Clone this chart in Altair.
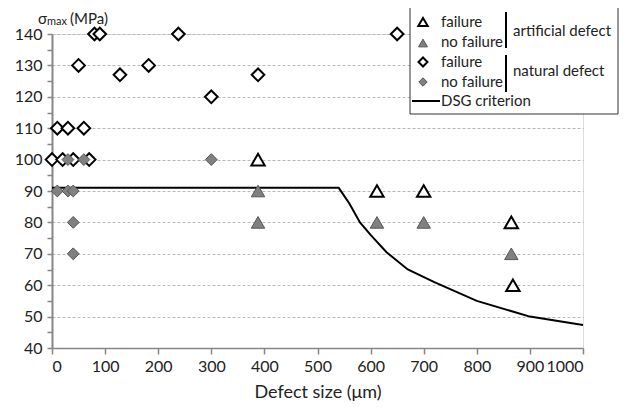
import altair as alt
import pandas as pd

FONT = "Lato"

# Natural defect, failure (open diamonds)
nat_fail_x = [0, 20, 40, 70, 10, 30, 60, 50, 80, 90, 128, 182, 238, 300, 388, 650]
nat_fail_y = [100, 100, 100, 100, 110, 110, 110, 130, 140, 140, 127, 130, 140, 120, 127, 140]
# Natural defect, no failure (grey diamonds)
nat_nof_x = [30, 60, 300, 10, 30, 40, 40, 40]
nat_nof_y = [100, 100, 100, 90, 90, 90, 80, 70]
# Artificial defect, failure (open triangles)
art_fail_x = [388, 612, 700, 865, 868]
art_fail_y = [100, 90, 90, 80, 60]
# Artificial defect, no failure (grey triangles)
art_nof_x = [388, 388, 612, 700, 865]
art_nof_y = [90, 80, 80, 80, 70]
# DSG criterion
dsg_x = [0, 540, 560, 580, 600, 630, 670, 720, 800, 900, 1000]
dsg_y = [91, 91, 86, 80, 76, 70.5, 65, 61, 55, 50, 47.3]

x_ticks = list(range(0, 1001, 100))
y_ticks = list(range(40, 141, 5))

W, H = 531, 314

df_nf = pd.DataFrame({"x": nat_fail_x, "y": nat_fail_y})
df_nn = pd.DataFrame({"x": nat_nof_x, "y": nat_nof_y})
df_af = pd.DataFrame({"x": art_fail_x, "y": art_fail_y})
df_an = pd.DataFrame({"x": art_nof_x, "y": art_nof_y})
df_dsg = pd.DataFrame({"x": dsg_x, "y": dsg_y})

xs = alt.Scale(domain=[0, 1000], nice=False, zero=False)
ys = alt.Scale(domain=[40, 140], nice=False, zero=False)

X = alt.X("x:Q", scale=xs, axis=alt.Axis(
    values=x_ticks, title="Defect size (μm)", grid=False, format="d",
    domainColor="#868686", domainWidth=1.5, tickColor="#868686", tickWidth=1.5, tickSize=6,
    labelFont=FONT, labelFontSize=16, labelColor="#222", labelPadding=4,
    titleFont=FONT, titleFontSize=18, titleFontWeight="normal", titleColor="#222", titlePadding=9))
Y = alt.Y("y:Q", scale=ys, axis=alt.Axis(
    values=y_ticks, title=None,
    labelExpr="datum.value % 10 == 0 ? datum.label : ''",
    grid=True,
    gridColor=alt.ConditionalAxisColor(condition={"test": "datum.value % 10 == 0 && datum.value > 40", "value": "#b8b8b8"}, value="transparent"),
    gridDash=[3, 2], gridWidth=1,
    domainColor="#868686", domainWidth=2, tickColor="#868686", tickWidth=1.5, tickSize=5,
    labelFont=FONT, labelFontSize=16, labelColor="#222", labelPadding=5))

base_enc = dict(x=X, y=Y)

dsg = alt.Chart(df_dsg).mark_line(color="black", strokeWidth=2).encode(**base_enc)
nf = alt.Chart(df_nf).mark_point(shape="diamond", size=160, filled=False, stroke="black",
                                  strokeWidth=2, fill="white", fillOpacity=1, opacity=1).encode(**base_enc)
nn = alt.Chart(df_nn).mark_point(shape="diamond", size=140, filled=True, fill="#808080",
                                  stroke="#555555", strokeWidth=1, opacity=1).encode(**base_enc)
af = alt.Chart(df_af).mark_point(shape="triangle-up", size=180, filled=False, stroke="black",
                                  strokeWidth=2, fill="white", fillOpacity=1, opacity=1).encode(**base_enc)
an = alt.Chart(df_an).mark_point(shape="triangle-up", size=180, filled=True, fill="#808080",
                                  stroke="#555555", strokeWidth=1, opacity=1).encode(**base_enc)

# ---- legend (plot-area pixel coordinates; origin at plot top-left) ----
OX, OY = 52, 34
def px(v): return v - OX
def py(v): return v - OY

leg_box = alt.Chart(pd.DataFrame({"a": [0]})).mark_rect(fill="white", stroke="#333", strokeWidth=1).encode(
    x=alt.value(px(410)), x2=alt.value(px(618)), y=alt.value(py(6)), y2=alt.value(py(114)))

def sym(shape, filled, yv, size):
    if filled:
        return alt.Chart(pd.DataFrame({"a": [0]})).mark_point(shape=shape, size=size, filled=True, fill="#808080",
                                                              stroke="#555555", strokeWidth=1, opacity=1).encode(
            x=alt.value(px(423)), y=alt.value(py(yv)))
    return alt.Chart(pd.DataFrame({"a": [0]})).mark_point(shape=shape, size=size, filled=False, stroke="black",
                                                          strokeWidth=2, opacity=1).encode(
        x=alt.value(px(423)), y=alt.value(py(yv)))

leg_syms = [sym("triangle-up", False, 22, 90), sym("triangle-up", True, 43, 80),
            sym("diamond", False, 62, 80), sym("diamond", True, 82, 70)]

leg_labels = ["failure", "no failure", "failure", "no failure", "DSG criterion"]
leg_label_y = [22, 42, 62, 82, 101]
leg_groups = ["artificial defect", "natural defect"]
leg_group_y = [31, 71]

def txt(s, xv, yv, size=15, align="left"):
    return alt.Chart(pd.DataFrame({"a": [0]})).mark_text(
        text=s, font=FONT, fontSize=size, color="#222", align=align, baseline="middle").encode(
        x=alt.value(px(xv)), y=alt.value(py(yv)))

leg_txt = [txt(s, 441, yv) for s, yv in zip(leg_labels, leg_label_y)]
leg_txt += [txt(s, 513, yv) for s, yv in zip(leg_groups, leg_group_y)]

def vline(xv, y1, y2, w=2, color="black"):
    return alt.Chart(pd.DataFrame({"a": [0]})).mark_rule(color=color, strokeWidth=w).encode(
        x=alt.value(px(xv)), y=alt.value(py(y1)), y2=alt.value(py(y2)))

bars = [vline(506, 12, 48), vline(506, 55, 92)]
leg_line = alt.Chart(pd.DataFrame({"a": [0]})).mark_rule(color="black", strokeWidth=2).encode(
    x=alt.value(px(412)), x2=alt.value(px(440)), y=alt.value(py(101)))

# y-axis title with subscript
ytitle = [txt("σ", 38, 19, 15), txt("max", 47, 22, 11), txt("(MPa)", 70, 19, 15)]

chart = alt.layer(dsg, nf, nn, af, an, leg_box, *leg_syms, *leg_txt, *bars, leg_line, *ytitle).properties(
    width=W, height=H,
    autosize=alt.AutoSizeParams(type="none"),
    padding={"left": 44, "top": 26, "right": 48, "bottom": 54},
).configure_view(stroke=None).configure(background="white")

chart.save("out.html", embed_options={"renderer": "svg", "actions": False})
